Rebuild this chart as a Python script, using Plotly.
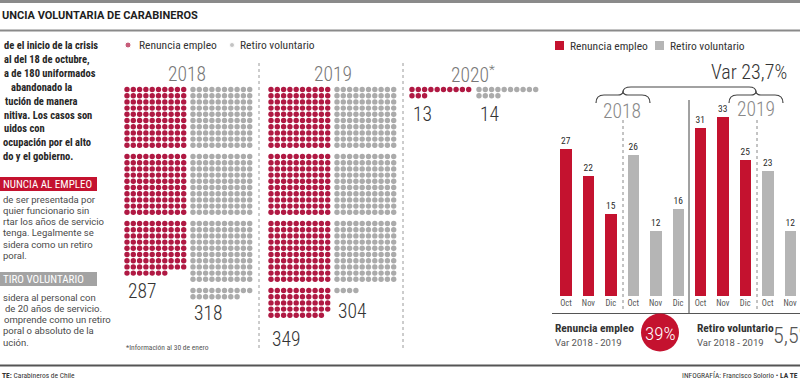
import plotly.graph_objects as go

W, H = 800, 383

# ---------------- data ----------------
waffle_years = ["2018", "2019", "2020*"]
renuncia_total = [287, 349, 13]
retiro_total = [318, 304, 14]

months = ["Oct", "Nov", "Dic"]
renuncia_2018 = [27, 22, 15]
retiro_2018 = [26, 12, 16]
renuncia_2019 = [31, 33, 25]
retiro_2019 = [23, 12, 22]

var_total = "Var 23,7%"
var_renuncia = "39%"
var_retiro = "5,5%"

# ---------------- styles ----------------
RED_DOT = "#B01943"
GRAY_DOT = "#ABABAB"
RED_BAR = "#C4122F"
GRAY_BAR = "#B5B5B5"
DARK = "#2B2B2B"
MID = "#555555"
COND = "Roboto Condensed, DejaVu Sans Condensed, sans-serif"
BODY = "Roboto Condensed, DejaVu Sans Condensed, sans-serif"
WIDE = "Roboto, DejaVu Sans, sans-serif"

fig = go.Figure()

# ---------------- waffles ----------------
DX, DY, BLOCK, Y0 = 6.3, 6.2, 67.0, 89.5
red_x0 = [127, 271, 412]
gray_x0 = [193, 337, 479]


def waffle(count, x0):
    xs, ys = [], []
    for i in range(count):
        block, r = divmod(i, 100)
        row, col = divmod(r, 10)
        xs.append(x0 + col * DX)
        ys.append(Y0 + block * BLOCK + row * DY)
    return xs, ys


for k in range(len(waffle_years)):
    for cnt, x0, col in ((renuncia_total[k], red_x0[k], RED_DOT),
                         (retiro_total[k], gray_x0[k], GRAY_DOT)):
        xs, ys = waffle(cnt, x0)
        fig.add_trace(go.Scatter(x=xs, y=ys, mode="markers", xaxis="x", yaxis="y",
                                 marker=dict(size=5.4, color=col, line=dict(width=0)),
                                 showlegend=False, hoverinfo="skip"))

# legend markers (waffle)
fig.add_trace(go.Scatter(x=[128, 232], y=[45, 45], mode="markers", xaxis="x", yaxis="y",
                         marker=dict(size=[6, 5], color=[RED_DOT, GRAY_DOT]),
                         showlegend=False, hoverinfo="skip"))

# ---------------- bars ----------------
bar_groups = [(renuncia_2018, RED_BAR), (retiro_2018, GRAY_BAR),
              (renuncia_2019, RED_BAR), (retiro_2019, GRAY_BAR)]
for g, (vals, col) in enumerate(bar_groups):
    xs = [g * 3 + i for i in range(3)]
    fig.add_trace(go.Bar(x=xs, y=vals, xaxis="x2", yaxis="y2", width=0.51,
                         marker=dict(color=col, line=dict(width=0)),
                         text=[str(v) for v in vals], textposition="outside",
                         textfont=dict(size=9.5, color=DARK, family=BODY),
                         showlegend=False, hoverinfo="skip"))

base_px, top_px = 296.0, 79.4
fig.update_layout(
    width=W, height=H, margin=dict(l=0, r=0, t=0, b=0),
    paper_bgcolor="white", plot_bgcolor="rgba(0,0,0,0)",
    xaxis=dict(range=[0, W], domain=[0, 1], visible=False, fixedrange=True),
    yaxis=dict(range=[H, 0], domain=[0, 1], visible=False, fixedrange=True),
    xaxis2=dict(domain=[554.8 / W, 799 / W], range=[-0.5, 10.4], anchor="y2",
                showgrid=False, zeroline=False, showline=False, ticks="",
                tickvals=list(range(12)), ticktext=months * 4,
                tickfont=dict(size=8.5, color=MID, family=BODY), fixedrange=True),
    yaxis2=dict(domain=[(H - base_px) / H, (H - top_px) / H], range=[0, 40], anchor="x2",
                visible=False, fixedrange=True),
    bargap=0, showlegend=False,
)

shapes = []


def line(x0, y0, x1, y1, color, width, dash="solid"):
    shapes.append(dict(type="line", xref="x", yref="y", x0=x0, y0=y0, x1=x1, y1=y1,
                       line=dict(color=color, width=width, dash=dash)))


# frame lines
line(0, 1.5, W, 1.5, "#8A8A8A", 3)
line(0, 30.5, W, 30.5, "#8A8A8A", 2)
line(0, 365.5, W, 365.5, "#555555", 2)
# waffle separators
line(259, 63, 259, 350, "#9A9A9A", 1, "dot")
line(403, 63, 403, 350, "#9A9A9A", 1, "dot")
# bar chart separators
line(623, 120, 623, 312, "#888888", 1, "dot")
line(757, 120, 757, 312, "#888888", 1, "dot")
line(689, 100, 689, 313, "#444444", 1)
line(552, 313.5, W, 313.5, "#555555", 1.2)

# braces
for path in ["M 596 103 Q 596 95 604 95 L 618 95 Q 622 95 623 92 Q 624 95 628 95 L 642 95 Q 650 95 650 103",
             "M 729 103 Q 729 95 737 95 L 751 95 Q 755 95 756 92 Q 757 95 761 95 L 775 95 Q 783 95 783 103",
             "M 623 92 Q 623 87 631 87 L 749 87 Q 756 87 756 92"]:
    shapes.append(dict(type="path", xref="x", yref="y", path=path,
                       line=dict(color="#444444", width=1.2)))

# left label boxes
shapes.append(dict(type="rect", xref="x", yref="y", x0=0, x1=97, y0=177, y1=191,
                   fillcolor="#C4122F", line=dict(width=0)))
shapes.append(dict(type="rect", xref="x", yref="y", x0=0, x1=97, y0=272, y1=286,
                   fillcolor="#A3A3A3", line=dict(width=0)))
# bar legend squares
shapes.append(dict(type="rect", xref="x", yref="y", x0=555, x1=564, y0=41, y1=50,
                   fillcolor=RED_BAR, line=dict(width=0)))
shapes.append(dict(type="rect", xref="x", yref="y", x0=655, x1=664, y0=41, y1=50,
                   fillcolor=GRAY_BAR, line=dict(width=0)))
# circle
shapes.append(dict(type="circle", xref="x", yref="y", x0=641, x1=679, y0=313.5, y1=351.5,
                   fillcolor="#C4122F", line=dict(width=0)))

ann = []


def text(x, y, s, size, color=DARK, family=BODY, xanchor="left", weight=None):
    f = dict(size=size, color=color, family=family)
    if weight:
        f["weight"] = weight
    ann.append(dict(x=x, y=y, xref="x", yref="y", text=s, showarrow=False,
                    xanchor=xanchor, yanchor="middle", font=f))


# title
text(0, 15, "<b>UNCIA VOLUNTARIA DE CARABINEROS</b>", 11, "#1E1E1E", WIDE)

# left panel
para1 = [(2, "de el inicio de la crisis"), (2, "al del 18 de octubre,"), (2, "a de 180 uniformados"),
         (9, "abandonado la"), (3, "tución de manera"), (2, "nitiva. Los casos son"),
         (2, "uidos con"), (1, "ocupación por el alto"), (1, "do y el gobierno.")]
for i, (x, s) in enumerate(para1):
    text(x, 45.5 + i * 13.9, "<b>" + s + "</b>", 10.5, "#262626")

text(1, 184, "NUNCIA AL EMPLEO", 11, "white")
para2 = ["de ser presentada por", "quier funcionario sin", "rtar los años de servicio",
         "tenga. Legalmente se", "sidera como un retiro", "poral."]
for i, s in enumerate(para2):
    text(1, 199 + i * 11.3, s, 9.5, "#4A4A4A", WIDE)

text(1, 279, "TIRO VOLUNTARIO", 11, "white")
para3 = [(1, "sidera al personal con"), (3, "de 20 años de servicio."), (2, "omprende como un retiro"),
         (1, "poral o absoluto de la"), (1, "ución.")]
for i, (x, s) in enumerate(para3):
    text(x, 297 + i * 11.3, s, 9.5, "#4A4A4A", WIDE)

# footer
text(0, 375, "<b>TE:</b> Carabineros de Chile", 7.5, "#333333")
text(800, 375, "INFOGRAFÍA: Francisco Solorio • <b>LA TE</b>", 7.5, "#333333", xanchor="right")

# waffle legend
text(137, 45, "Renuncia empleo", 11.5, "#333333")
text(238, 45, "Retiro voluntario", 11.5, "#333333")

# waffle titles and counts
title_x = [187, 333, 473]
for k, yr in enumerate(waffle_years):
    s = yr if not yr.endswith("*") else yr[:-1] + "<sup>*</sup>"
    text(title_x[k], 74, s, 19.5, "#777777", COND, "center", 300)

count_pos = [((127, 291), (193, 313)), ((271, 339), (337, 311)), ((412, 114), (479, 114))]
for k in range(len(waffle_years)):
    (rx, ry), (gx, gy) = count_pos[k]
    text(rx - 1, ry, str(renuncia_total[k]), 19.5, "#333333", COND, "left", 300)
    text(gx - 1, gy, str(retiro_total[k]), 19.5, "#333333", COND, "left", 300)

text(124, 347, "*Información al 30 de enero", 7.5, "#555555")

# bar chart texts
text(568, 46, "Renuncia empleo", 11.5, "#333333")
text(668, 46, "Retiro voluntario", 11.5, "#333333")
text(789, 72, var_total, 20, "#333333", COND, "right", 300)
text(622, 111, "2018", 19.5, "#888888", COND, "center", 300)
text(756, 109, "2019", 19.5, "#888888", COND, "center", 300)

text(553, 328, "<b>Renuncia empleo</b>", 11.5, "#333333")
text(553, 342, "Var 2018 - 2019", 9.5, "#555555", WIDE)
text(660, 333, var_renuncia, 19, "white", COND, "center", 300)
text(695, 328, "<b>Retiro voluntario</b>", 11.5, "#333333")
text(695, 342, "Var 2018 - 2019", 9.5, "#555555", WIDE)
text(771, 335, var_retiro, 22, "#555555", COND, "left", 300)

fig.update_layout(shapes=shapes, annotations=ann)
fig.write_html("out.html", config={"displayModeBar": False},
               post_script="document.body.style.margin='0';document.body.style.padding='0';")
